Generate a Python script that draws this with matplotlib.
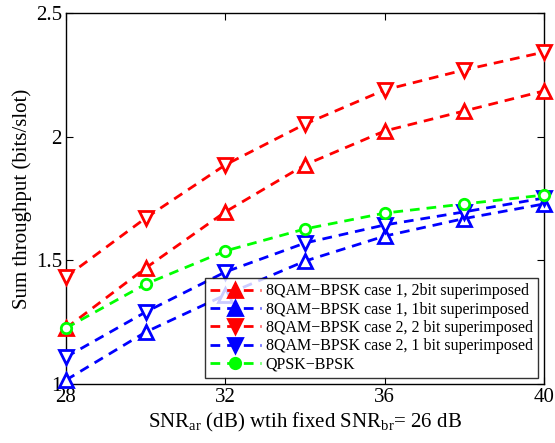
import matplotlib.pyplot as plt
from matplotlib.lines import Line2D

plt.rcParams['font.family'] = ['Liberation Serif', 'DejaVu Serif']
plt.rcParams['mathtext.fontset'] = 'custom'
plt.rcParams['mathtext.rm'] = 'Liberation Serif'

snr = [28, 30, 32, 34, 36, 38, 40]
case1_2bit = [1.226, 1.469, 1.696, 1.886, 2.023, 2.104, 2.185]
case1_1bit = [1.016, 1.210, 1.36, 1.497, 1.598, 1.669, 1.728]
case2_2bit = [1.433, 1.671, 1.886, 2.051, 2.189, 2.270, 2.342]
case2_1bit = [1.109, 1.291, 1.453, 1.570, 1.643, 1.696, 1.752]
qpsk_bpsk = [1.226, 1.404, 1.538, 1.627, 1.691, 1.728, 1.764]

labels = ['8QAM\u2212BPSK case 1, 2bit superimposed',
          '8QAM\u2212BPSK case 1, 1bit superimposed',
          '8QAM\u2212BPSK case 2, 2 bit superimposed',
          '8QAM\u2212BPSK case 2, 1 bit superimposed',
          'QPSK\u2212BPSK']

series = [(case1_2bit, 'r', '^'), (case1_1bit, 'b', '^'),
          (case2_2bit, 'r', 'v'), (case2_1bit, 'b', 'v'),
          (qpsk_bpsk, '#00ff00', 'o')]

fig = plt.figure(figsize=(5.55, 4.43), dpi=100)
ax = fig.add_axes([66 / 555, 59 / 443, 478 / 555, 371 / 443])

handles = []
for ys, c, m in series:
    ms = 7.5 if m == 'o' else 10
    ax.plot(snr, ys, '--', color=c, lw=2, dashes=(3.5, 2.5), marker=m,
            ms=ms, mfc='white', mec=c, mew=2, clip_on=False, zorder=3)
    handles.append(Line2D([], [], ls='--', color=c, lw=2, dashes=(3.5, 2.5),
                          marker=m, ms=ms, mfc=c, mec=c, mew=2))

ax.set_xlim(28, 40)
ax.set_ylim(1, 2.5)
ax.set_xticks([28, 32, 36, 40])
ax.set_yticks([1, 1.5, 2, 2.5])
ax.set_yticklabels(['1', '1.5', '2', '2.5'])
ax.tick_params(direction='in', labelsize=15, length=5, top=True, right=True, pad=3)
for s in ax.spines.values():
    s.set_linewidth(1)

ax.set_xlabel(r'SNR$_{\mathrm{ar}}$ (dB) wtih fixed SNR$_{\mathrm{br}}$= 26 dB', fontsize=15, labelpad=3)
ax.set_ylabel('Sum throughput (bits/slot)', fontsize=15, labelpad=3)

leg = ax.legend(handles, labels, loc='lower right', fontsize=11.5, frameon=True,
                fancybox=False, edgecolor='black', handlelength=3.2,
                borderaxespad=0.4, labelspacing=0.15, handletextpad=0.3,
                borderpad=0.3)
leg.get_frame().set_linewidth(1)

fig.savefig('out.png', dpi=100)
